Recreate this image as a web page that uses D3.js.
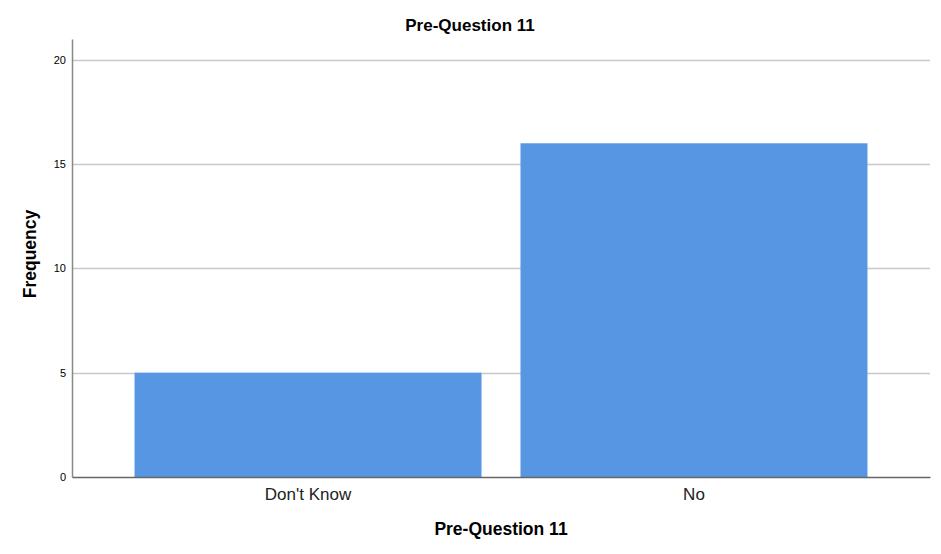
<!DOCTYPE html>
<html>
<head>
<meta charset="utf-8">
<script src="https://cdn.jsdelivr.net/npm/d3@7"></script>
<style>
  body { margin: 0; background: #fff; }
  text { font-family: Arial, "Liberation Sans", sans-serif; fill: #000; }
</style>
</head>
<body>
<div id="container"></div>
<script>
// data
var categories = ["Don't Know", 'No']
var frequencies = [5, 16]
var yTicks = [0, 5, 10, 15, 20]

var width = 941
var height = 554
var margin = { top: 39, right: 11, bottom: 78, left: 72 }

var svg = d3.select('#container').append('svg')
  .attr('width', width)
  .attr('height', height)

var x = d3.scaleBand()
  .domain(categories)
  .range([margin.left, width - margin.right])
  .paddingInner(0.101)
  .paddingOuter(0.162)

var y = d3.scaleLinear()
  .domain([0, 21])
  .range([height - margin.bottom + 1, margin.top])

// gridlines
svg.append('g')
  .selectAll('line')
  .data(yTicks.filter(function (d) { return d > 0 }))
  .enter().append('line')
  .attr('x1', margin.left)
  .attr('x2', width - margin.right)
  .attr('y1', function (d) { return Math.round(y(d)) + 0.5 })
  .attr('y2', function (d) { return Math.round(y(d)) + 0.5 })
  .style('stroke', '#c8c8c8')
  .style('stroke-width', 1.5)

// bars
svg.append('g')
  .selectAll('rect')
  .data(frequencies)
  .enter().append('rect')
  .attr('x', function (d, i) { return x(categories[i]) })
  .attr('width', x.bandwidth())
  .attr('y', function (d) { return y(d) })
  .attr('height', function (d) { return y(0) - y(d) })
  .style('fill', '#5796e3')

// y axis
var yAxis = svg.append('g')
  .attr('transform', 'translate(' + margin.left + ',0)')
  .call(d3.axisLeft(y).tickValues(yTicks).tickSize(0).tickPadding(6))
yAxis.select('.domain').style('stroke', '#888').style('stroke-width', 1.5)
yAxis.selectAll('text').style('font-size', '11px').style('font-family', 'Arial, "Liberation Sans", sans-serif')

// x axis
var xAxis = svg.append('g')
  .attr('transform', 'translate(0,' + y(0) + ')')
  .call(d3.axisBottom(x).tickSize(0).tickPadding(11))
xAxis.select('.domain').style('stroke', '#666').style('stroke-width', 1.5)
xAxis.selectAll('text').style('font-size', '17px').style('fill', '#222').style('font-family', 'Arial, "Liberation Sans", sans-serif')

// titles
svg.append('text')
  .attr('x', 470)
  .attr('y', 31)
  .attr('text-anchor', 'middle')
  .style('font-size', '17px')
  .style('font-weight', 'bold')
  .text('Pre-Question 11')

svg.append('text')
  .attr('x', 501)
  .attr('y', 535)
  .attr('text-anchor', 'middle')
  .style('font-size', '17.5px')
  .style('font-weight', 'bold')
  .text('Pre-Question 11')

svg.append('text')
  .attr('transform', 'translate(36,254) rotate(-90)')
  .attr('text-anchor', 'middle')
  .style('font-size', '17.5px')
  .style('font-weight', 'bold')
  .text('Frequency')
</script>
</body>
</html>
